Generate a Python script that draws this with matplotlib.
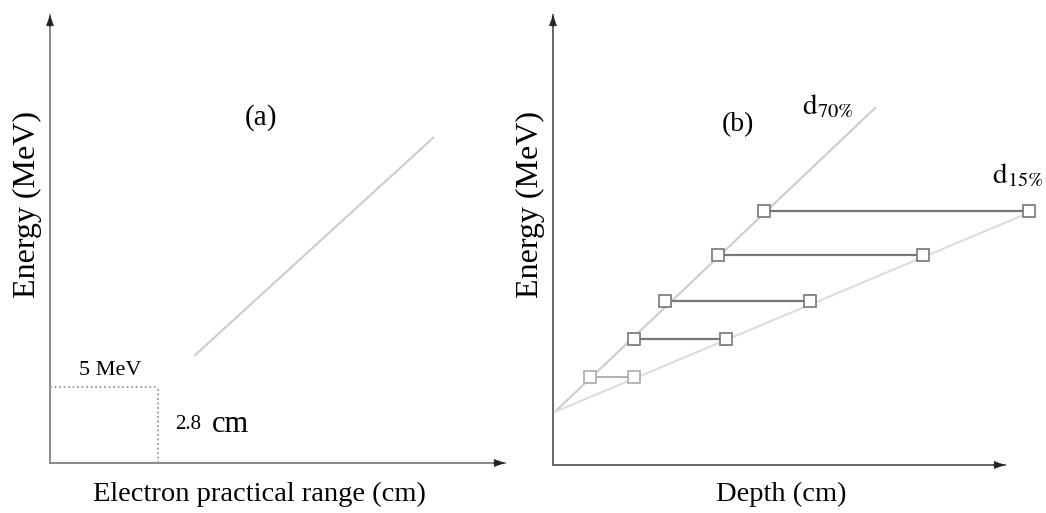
import matplotlib.pyplot as plt

plt.rcParams['font.family'] = ['Liberation Serif', 'DejaVu Serif']
plt.rcParams['mathtext.fontset'] = 'stix'

# (a) range-energy line, cm vs MeV
range_line_cm = [3.76, 9.93]
range_line_mev = [7.1, 21.4]
ref_range_cm = 2.8
ref_energy_mev = 5.0

# (b) depth of 70% and 15% dose for several beam energies
energies = [5.8, 8.3, 10.8, 13.8, 16.7]
d70 = [0.96, 2.10, 2.90, 4.27, 5.47]
d15 = [2.10, 4.48, 6.66, 9.59, 12.33]
d70_fit_x = [0.05, 8.35]
d70_fit_y = [3.5, 23.5]
d15_fit_x = [0.05, 12.33]
d15_fit_y = [3.5, 16.6]

W, H = 1046, 513
fig = plt.figure(figsize=(W / 100, H / 100), dpi=100)

px_cm = 38.6   # pixels per cm
px_mev = 15.2  # pixels per MeV


def make_axes(x0, y0, w, h):
    ax = fig.add_axes([x0 / W, (H - y0) / H, w / W, h / H])
    ax.set_xlim(0, w / px_cm)
    ax.set_ylim(0, h / px_mev)
    ax.axis('off')
    return ax


def draw_arrows(ax, xend, yend, color):
    ax.plot([0, xend], [0, 0], color=color, lw=1.4, clip_on=False)
    ax.plot([0, 0], [0, yend], color=color, lw=1.4, clip_on=False)
    kw = dict(arrowstyle='-|>,head_length=0.7,head_width=0.25',
              color='#222222', lw=0.5, shrinkA=0, shrinkB=0)
    ax.annotate('', xy=(xend, 0), xytext=(xend - 0.3, 0), arrowprops=kw,
                annotation_clip=False)
    ax.annotate('', xy=(0, yend), xytext=(0, yend - 0.8), arrowprops=kw,
                annotation_clip=False)


# panel (a)
ax1 = make_axes(50, 463, 470, 455)
draw_arrows(ax1, 455 / px_cm, 448 / px_mev, '#8a8a8a')
ax1.plot(range_line_cm, range_line_mev, color='#cccccc', lw=1.5)
ax1.plot([0, ref_range_cm], [ref_energy_mev, ref_energy_mev],
         color='#999999', lw=1.3, ls=(0, (1, 1.5)))
ax1.plot([ref_range_cm, ref_range_cm], [0, ref_energy_mev],
         color='#999999', lw=1.3, ls=(0, (1, 1.5)))
ax1.text(1.56, 6.1, '5 MeV', fontsize=16, ha='center', va='center')
ax1.text(3.25, 2.55, '2.8', fontsize=15, ha='left', va='center')
ax1.text(4.2, 2.55, 'cm', fontsize=22, ha='left', va='center')
ax1.text(5.47, 22.7, '(a)', fontsize=21, ha='center', va='center')
fig.text(259 / W, 1 - 494 / H, 'Electron practical range (cm)',
         fontsize=20.5, ha='center', va='center')
fig.text(27 / W, 1 - 204 / H, 'Energy (MeV)', fontsize=23,
         rotation=90, ha='center', va='center')

# panel (b)
ax2 = make_axes(553, 465, 490, 458)
draw_arrows(ax2, 452 / px_cm, 450 / px_mev, '#666666')
ax2.plot(d70_fit_x, d70_fit_y, color='#cccccc', lw=1.5)
ax2.plot(d15_fit_x, d15_fit_y, color='#dddddd', lw=1.5)
for i, (e, a, b) in enumerate(zip(energies, d70, d15)):
    c = '#aaaaaa' if i == 0 else '#777777'
    ax2.plot([a, b], [e, e], color=c, lw=1.3 if i == 0 else 1.6,
             marker='s', ms=9, mfc='white', mec=c, mew=1.2,
             clip_on=False)
ax2.text(7.12, 23.6, r'$\mathrm{d}_{70\%}$', fontsize=21, ha='center',
         va='center')
ax2.text(12.05, 19.1, r'$\mathrm{d}_{15\%}$', fontsize=21, ha='center',
         va='center')
ax2.text(4.8, 22.4, '(b)', fontsize=20, ha='center', va='center')
fig.text(781 / W, 1 - 494 / H, 'Depth (cm)',
         fontsize=20.5, ha='center', va='center')
fig.text(530 / W, 1 - 205 / H, 'Energy (MeV)', fontsize=23,
         rotation=90, ha='center', va='center')

fig.savefig('out.png', dpi=100, facecolor='white')
